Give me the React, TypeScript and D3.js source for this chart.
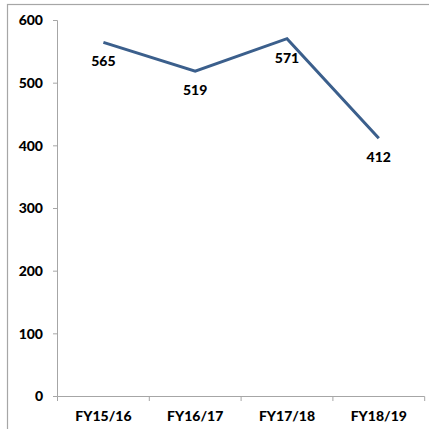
import React from "react";
import * as d3 from "d3";

const categories = ["FY15/16", "FY16/17", "FY17/18", "FY18/19"];
const values = [565, 519, 571, 412];
const yTicks = [0, 100, 200, 300, 400, 500, 600];

export default function App() {
  const W = 429, H = 429;
  const left = 57.5, right = 424.7, top = 20.5, bottom = 396.5;
  const x = d3.scaleBand<string>().domain(categories).range([left, right]).padding(0);
  const y = d3.scaleLinear().domain([0, 600]).range([bottom, top]);
  const line = d3.line<number>()
    .x((_, i) => (x(categories[i]) as number) + x.bandwidth() / 2)
    .y((d) => y(d));
  const font = "Lato, 'Open Sans', sans-serif";
  const grey = "#a6a6a6";
  const fs = 14;
  const fw = 900;
  const boundaries = categories.map((c) => x(c) as number).concat([right]);
  return (
    <svg width={W} height={H} style={{ position: "absolute", left: 0, top: 0, background: "#fff" }}>
      <rect x={7.5} y={4.5} width={440} height={440} fill="#fff" stroke={grey} strokeWidth={1.2} />
      <line x1={left} x2={left} y1={top} y2={bottom} stroke={grey} strokeWidth={1} />
      <line x1={left} x2={right} y1={bottom} y2={bottom} stroke={grey} strokeWidth={1} />
      {yTicks.map((t) => (
        <g key={t}>
          <line x1={left - 4.5} x2={left} y1={y(t)} y2={y(t)} stroke={grey} />
          <text x={43} y={y(t)} dy="0.35em" textAnchor="end" fontFamily={font} fontWeight={fw} fontSize={fs} fill="#000">
            {t}
          </text>
        </g>
      ))}
      {boundaries.map((b, i) => (
        <line key={i} x1={b} x2={b} y1={bottom} y2={bottom + 4.5} stroke={grey} />
      ))}
      {categories.map((c) => (
        <text key={c} x={(x(c) as number) + x.bandwidth() / 2} y={420.5} textAnchor="middle" fontFamily={font} fontWeight={fw} fontSize={fs} fill="#000">
          {c}
        </text>
      ))}
      <path d={line(values) || ""} fill="none" stroke="#3B5F8C" strokeWidth={3} strokeLinejoin="miter" />
      {values.map((v, i) => (
        <text key={i} x={(x(categories[i]) as number) + x.bandwidth() / 2} y={y(v) + 24} textAnchor="middle" fontFamily={font} fontWeight={fw} fontSize={fs} fill="#000">
          {v}
        </text>
      ))}
    </svg>
  );
}
